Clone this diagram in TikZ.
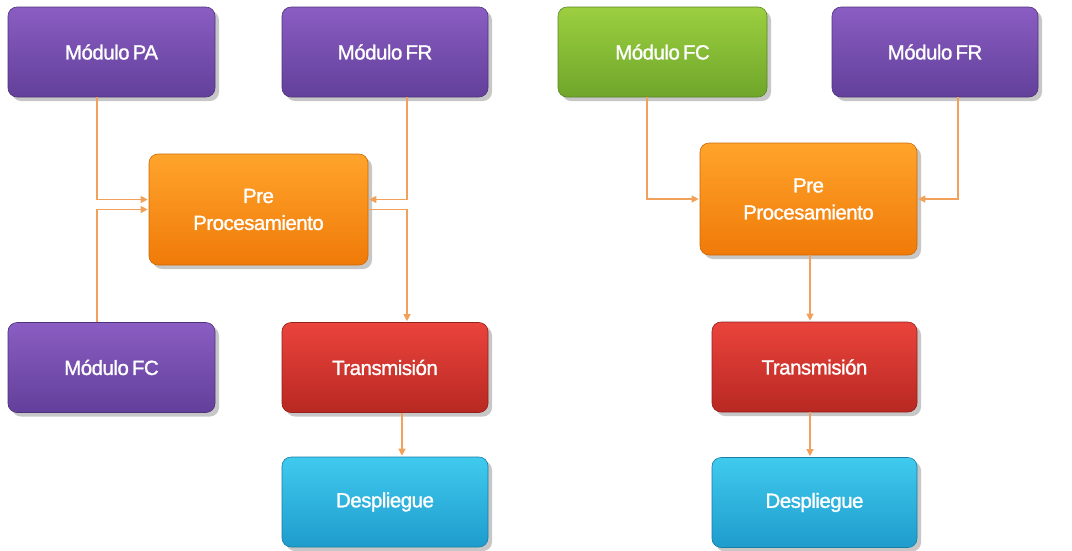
\documentclass[tikz,border=0pt]{standalone}
\usepackage{fontspec}
\setmainfont{Liberation Sans}
\newfontfamily\boxfont[FakeBold=1.2, LetterSpace=-2.5, WordSpace=0.6]{Liberation Sans}
\usetikzlibrary{arrows.meta,shadows}
\definecolor{purT}{HTML}{8A5DC2}\definecolor{purB}{HTML}{62409A}
\definecolor{grnT}{HTML}{9CCF40}\definecolor{grnB}{HTML}{6FA62A}
\definecolor{orgT}{HTML}{FFA42C}\definecolor{orgB}{HTML}{F07A08}
\definecolor{redT}{HTML}{EA443C}\definecolor{redB}{HTML}{B82822}
\definecolor{cyaT}{HTML}{40CAEE}\definecolor{cyaB}{HTML}{1E9CCC}
\definecolor{conn}{HTML}{F2A15A}
\tikzset{
  box/.style={rounded corners=9pt, minimum width=206pt, minimum height=90pt,
    text=white, align=center, font=\boxfont\fontsize{20.5}{27}\selectfont,
    drop shadow={shadow xshift=4pt, shadow yshift=-4pt, opacity=0.22, fill=black}},
  purbox/.style={box, shading=axis, top color=purT, bottom color=purB, draw=purB!80!black, line width=0.6pt},
  grnbox/.style={box, shading=axis, top color=grnT, bottom color=grnB, draw=grnB!80!black, line width=0.6pt},
  orgbox/.style={box, shading=axis, top color=orgT, bottom color=orgB, draw=orgB!85!black, line width=0.6pt},
  redbox/.style={box, shading=axis, top color=redT, bottom color=redB, draw=redB!80!black, line width=0.6pt},
  cyabox/.style={box, shading=axis, top color=cyaT, bottom color=cyaB, draw=cyaB!80!black, line width=0.6pt},
  link/.style={draw=conn, line width=1.2pt, -{Triangle[length=7pt,width=7pt]}, shorten >=1pt}
}
\begin{document}
\begin{tikzpicture}[x=1pt,y=-1pt]
\useasboundingbox (0,0) rectangle (1072,550);
% left diagram
\node[purbox, minimum width=207pt] (paL) at (111.5,52) {Módulo PA};
\node[purbox] (frL) at (385,52) {Módulo FR};
\node[orgbox, minimum width=219pt, minimum height=111pt] (preL) at (258.5,209.5) {Pre\\Procesamiento};
\node[purbox, minimum width=207pt] (fcL) at (111.5,367.5) {Módulo FC};
\node[redbox] (trL) at (385,367.5) {Transmisión};
\node[cyabox] (deL) at (385,502) {Despliegue};
% right diagram
\node[grnbox, minimum width=209pt] (fcR) at (662.5,52) {Módulo FC};
\node[purbox] (frR) at (935,52) {Módulo FR};
\node[orgbox, minimum width=217pt, minimum height=112pt] (preR) at (808.5,199) {Pre\\Procesamiento};
\node[redbox, minimum width=205pt] (trR) at (814.5,367) {Transmisión};
\node[cyabox, minimum width=205pt] (deR) at (814.5,502.5) {Despliegue};
% left connectors
\draw[link] ([xshift=-14.5pt]paL.south) |- ([yshift=10pt]preL.west);
\draw[link] ([xshift=-14.5pt]fcL.north) |- (preL.west);
\draw[link] ([xshift=22pt]frL.south) |- ([yshift=10pt]preL.east);
\draw[link] (preL.east) -| ([xshift=22pt]trL.north);
\draw[link] ([xshift=17pt]trL.south) -- ([xshift=17pt]deL.north);
% right connectors
\draw[link] ([xshift=-15.5pt]fcR.south) |- (preR.west);
\draw[link] ([xshift=23pt]frR.south) |- (preR.east);
\draw[link] ([xshift=1.5pt]preR.south) -- ([xshift=-4.5pt]trR.north);
\draw[link] ([xshift=-4.5pt]trR.south) -- ([xshift=-4.5pt]deR.north);
\end{tikzpicture}
\end{document}
